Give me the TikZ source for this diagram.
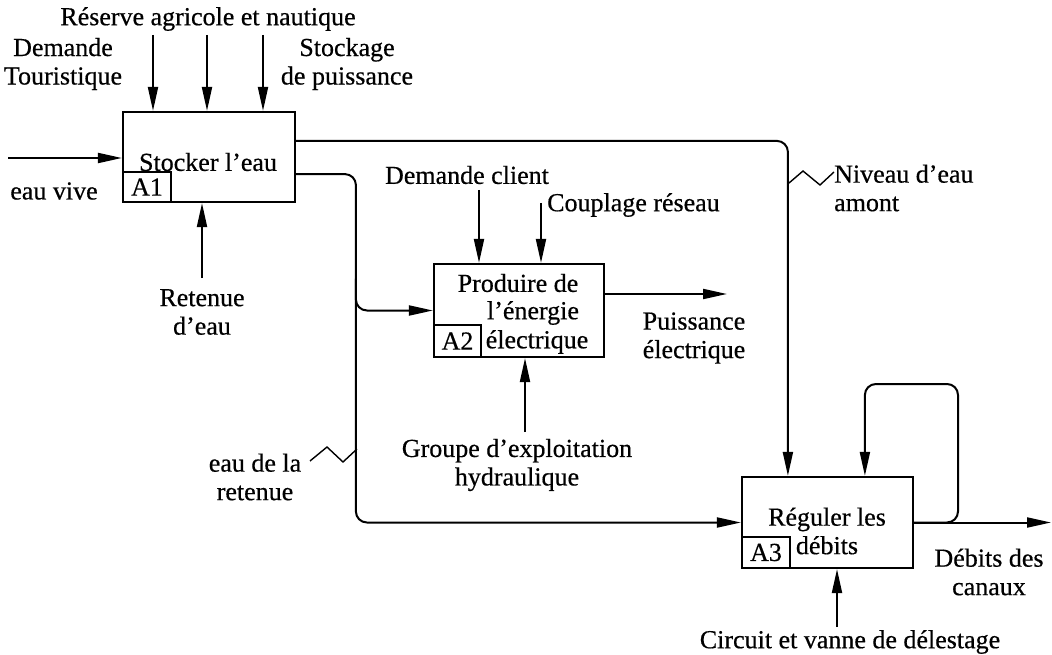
\documentclass[tikz,border=0pt]{standalone}
\usepackage{fontspec}
\setmainfont{Liberation Serif}[UprightFeatures={FakeBold=0.5}]
\usetikzlibrary{arrows.meta,calc}
\begin{document}
\begin{tikzpicture}[x=1pt,y=-1pt,
  every node/.style={font=\fontsize{26}{28.5}\selectfont, inner sep=0pt},
  lbl/.style={align=center},
  proc/.style={draw, line width=2.2pt, rectangle},
  tag/.style={draw, line width=2.2pt, rectangle, anchor=south west},
  flow/.style={line width=2pt, -{Triangle[length=24pt,width=10pt]}},
  roundbend/.style={rounded corners=11pt}]
\useasboundingbox (0,0) rectangle (1052,655);

% ---- activity boxes ----
\node[proc, minimum width=172pt, minimum height=90pt] (A1) at (209,157) {};
\node[tag, minimum width=48pt, minimum height=30pt] (A1tag) at (A1.south west) {A1};
\node (A1txt) at (208,162) {Stocker l'eau};

\node[proc, minimum width=170pt, minimum height=93pt] (A2) at (519,310.5) {};
\node[tag, minimum width=47pt, minimum height=32pt] (A2tag) at (A2.south west) {A2};
\node (A2l1) at (518,283) {Produire de};
\node (A2l2) at (533,313) {l'énergie};
\node (A2l3) at (537,342) {électrique};

\node[proc, minimum width=171pt, minimum height=91pt] (A3) at (827.5,522.5) {};
\node[tag, minimum width=48pt, minimum height=31pt] (A3tag) at (A3.south west) {A3};
\node[lbl] (A3txt) at (827,531) {Réguler les\\débits};

% ---- labels ----
\node (reserve) at (208,19) {Réserve agricole et nautique};
\node[lbl] (touris) at (63,64) {Demande\\Touristique};
\node[lbl] (stock) at (347,64) {Stockage\\de puissance};
\node (vive) at (54,191) {eau vive};
\node[lbl] (retenue) at (202,312) {Retenue\\d'eau};
\node (client) at (467,175) {Demande client};
\node[anchor=west] (couplage) at (547,205) {Couplage réseau};
\node[lbl] (puiss) at (694,338) {Puissance\\électrique};
\node[lbl] (groupe) at (517,465) {Groupe d'exploitation\\hydraulique};
\node[lbl] (eauret) at (255,477) {eau de la\\retenue};
\node[align=left, anchor=west] (niveau) at (834,188) {Niveau d'eau\\amont};
\node[lbl] (canaux) at (989,572) {Débits des\\canaux};
\node (circuit) at (850,642) {Circuit et vanne de délestage};

% ---- free ends ----
\coordinate (cA) at (153,35);
\coordinate (cB) at (207,35);
\coordinate (cC) at (263,35);
\coordinate (inA1) at (8,158);
\coordinate (mA1) at (202,278);
\coordinate (cA2a) at (479,190);
\coordinate (cA2b) at (541,203);
\coordinate (outA2) at (727,294);
\coordinate (mA2) at (525,432);
\coordinate (loop) at (958,384);
\coordinate (outA3) at (1051,522.5);
\coordinate (mA3) at (837,627);

% ---- A1 ----
\draw[flow] (cA) -- (cA |- A1.north);
\draw[flow] (cB) -- (cB |- A1.north);
\draw[flow] (cC) -- (cC |- A1.north);
\draw[flow] (inA1) -- (inA1 -| A1.west);
\draw[flow] (mA1) -- (mA1 |- A1.south);

% water level to A3
\draw[flow, roundbend] ($(A1.north east)+(0,30)$) -| ($(A3.north west)+(47,0)$);
% reservoir water to A2 and A3
\draw[flow, roundbend] ($(A1.south east)+(0,-29)$) -| ($(A3.west)+(-385,0)$) -- (A3.west);
\draw[flow, roundbend] ($(A2.west)+(-77,-32)$) |- (A2.west);

% ---- A2 ----
\draw[flow] (cA2a) -- (cA2a |- A2.north);
\draw[flow] (cA2b) -- (cA2b |- A2.north);
\draw[flow] (A2.east |- outA2) -- (outA2);
\draw[flow] (mA2) -- (mA2 |- A2.south);

% ---- A3 ----
\draw[flow, roundbend] (A3.east) -| (loop) -| ($(A3.north west)+(124,0)$);
\draw[flow] (A3.east) -- (outA3);
\draw[flow] (mA3) -- (mA3 |- A3.south);

% ---- squiggle leaders ----
\draw[line width=1.4pt] (789,183) -- (803,171) -- (820,185) -- (834,172);
\draw[line width=1.4pt] (310,461) -- (327,447) -- (343,462) -- (357,449);
\end{tikzpicture}
\end{document}
